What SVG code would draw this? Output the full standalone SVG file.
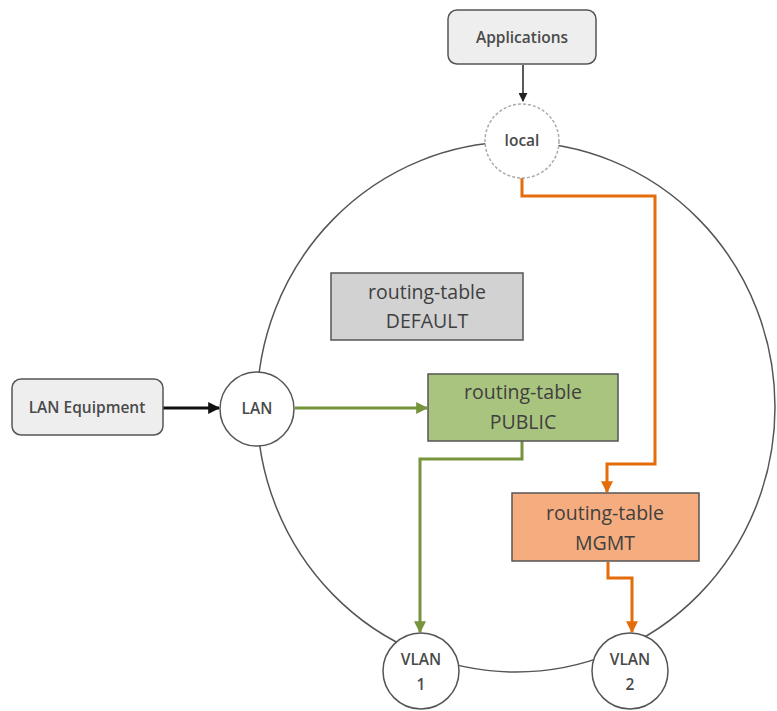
<svg xmlns="http://www.w3.org/2000/svg" width="777" height="711" viewBox="0 0 777 711">
<style>
text{font-family:"Open Sans","Liberation Sans",sans-serif;text-anchor:middle;fill:#404040}
.big{font-size:19.5px}
.small{font-size:15.5px;font-weight:600;fill:#4a4a4a}
.node{stroke:#555;stroke-width:1.5}
.conn{fill:none;stroke-width:3}
</style>
<defs>
<marker id="ab" viewBox="0 0 10 10" refX="9" refY="5" markerWidth="4" markerHeight="4" orient="auto" markerUnits="strokeWidth"><path d="M0,0L10,5L0,10z" fill="#111"/></marker>
<marker id="ab2" viewBox="0 0 10 10" refX="9" refY="5" markerWidth="6" markerHeight="6" orient="auto" markerUnits="strokeWidth"><path d="M0,0L10,5L0,10z" fill="#222"/></marker>
<marker id="ag" viewBox="0 0 10 10" refX="9" refY="5" markerWidth="4" markerHeight="4" orient="auto" markerUnits="strokeWidth"><path d="M0,0L10,5L0,10z" fill="#77933c"/></marker>
<marker id="ao" viewBox="0 0 10 10" refX="9" refY="5" markerWidth="4" markerHeight="4" orient="auto" markerUnits="strokeWidth"><path d="M0,0L10,5L0,10z" fill="#e46c0a"/></marker>
</defs>
<rect width="777" height="711" fill="#fff"/>
<g id="ring"><ellipse cx="516" cy="407" rx="259" ry="265" fill="none" stroke="#555" stroke-width="1.5"/></g>
<g id="connectors">
<path d="M523,65V101" fill="none" stroke="#222" stroke-width="1.5" marker-end="url(#ab2)"/>
<path d="M163,408H219" class="conn" stroke="#111" marker-end="url(#ab)"/>
<path d="M295,408H427" class="conn" stroke="#77933c" marker-end="url(#ag)"/>
<path d="M522,441V459H420V632" class="conn" stroke="#77933c" marker-end="url(#ag)"/>
<path d="M522,178V196H655V464H607V492" class="conn" stroke="#e46c0a" marker-end="url(#ao)"/>
<path d="M608,562V578H632V632" class="conn" stroke="#e46c0a" marker-end="url(#ao)"/>
</g>
<g id="applications"><rect x="448" y="10" width="148" height="54" rx="9" fill="#eeeeee" class="node"/><text x="522" y="43" class="small">Applications</text></g>
<g id="local"><circle cx="522" cy="141" r="37" fill="#fff" stroke="#aaa" stroke-width="1.5" stroke-dasharray="3 2"/><text x="522" y="146" class="small">local</text></g>
<g id="lan-equipment"><rect x="12" y="379" width="151" height="56" rx="9" fill="#eeeeee" class="node"/><text x="87" y="413" class="small">LAN Equipment</text></g>
<g id="lan"><circle cx="257" cy="409" r="37" fill="#fff" class="node"/><text x="257" y="414" class="small">LAN</text></g>
<g id="default"><rect x="331" y="273" width="192" height="67" fill="#d2d2d2" class="node"/><text x="427" y="299" class="big">routing-table</text><text x="427" y="328" class="big">DEFAULT</text></g>
<g id="public"><rect x="428" y="374" width="190" height="67" fill="#a9c47f" class="node"/><text x="523" y="399" class="big">routing-table</text><text x="523" y="429" class="big">PUBLIC</text></g>
<g id="mgmt"><rect x="512" y="493" width="187" height="68" fill="#f5ad7f" class="node"/><text x="605" y="520" class="big">routing-table</text><text x="605" y="550" class="big">MGMT</text></g>
<g id="vlan1"><circle cx="421" cy="671" r="38" fill="#fff" class="node"/><text x="421" y="665" class="small">VLAN</text><text x="421" y="690" class="small">1</text></g>
<g id="vlan2"><circle cx="630" cy="671" r="38" fill="#fff" class="node"/><text x="630" y="665" class="small">VLAN</text><text x="630" y="690" class="small">2</text></g>
</svg>
